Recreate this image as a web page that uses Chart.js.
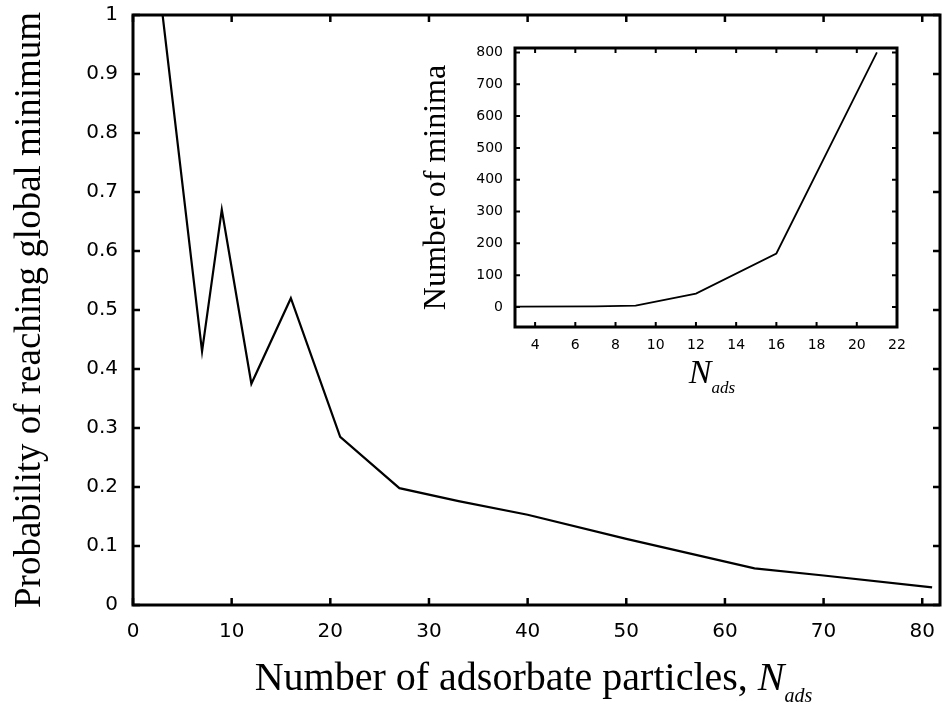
<!DOCTYPE html>
<html>
<head>
<meta charset="utf-8">
<title>Probability of reaching global minimum</title>
<script src="https://cdn.jsdelivr.net/npm/chart.js@4.4.1/dist/chart.umd.min.js"></script>
<style>
  html, body { margin: 0; padding: 0; background: #fff; }
  #wrap { position: relative; width: 944px; height: 710px; }
  #insetBox { position: absolute; left: 405px; top: 40px; width: 500px; height: 360px; }
</style>
</head>
<body>
<div id="wrap">
  <canvas id="mainChart" width="944" height="710"></canvas>
  <div id="insetBox"><canvas id="insetChart" width="500" height="360"></canvas></div>
</div>
<script>
// main curve: probability vs number of adsorbate particles
const particles = [3, 7, 9, 12, 16, 21, 27, 33, 40, 50, 63, 70, 81];
const probability = [1.0, 0.43, 0.67, 0.375, 0.52, 0.285, 0.198, 0.176, 0.153, 0.112, 0.062, 0.05, 0.03];
const mainXTicks = [0, 10, 20, 30, 40, 50, 60, 70, 80];
const mainYTicks = [0, 0.1, 0.2, 0.3, 0.4, 0.5, 0.6, 0.7, 0.8, 0.9, 1];

// inset: number of minima
const insetN = [3, 7, 9, 12, 16, 21];
const minimaCount = [1, 2, 4, 42, 168, 800];
const insetXTicks = [4, 6, 8, 10, 12, 14, 16, 18, 20, 22];
const insetYTicks = [0, 100, 200, 300, 400, 500, 600, 700, 800];

const SERIF = '"Liberation Serif", "Times New Roman", serif';
const SANS = '"DejaVu Sans", sans-serif';

// gnuplot-like frame: box all round, ticks pointing inward on every side
const frame = {
  id: 'frame',
  afterDraw(chart, args, o) {
    const { ctx, chartArea: a, scales: { x, y } } = chart;
    ctx.save();
    ctx.strokeStyle = '#000';
    ctx.lineWidth = o.tickWidth;
    ctx.beginPath();
    x.ticks.forEach(t => {
      const px = x.getPixelForValue(t.value);
      ctx.moveTo(px, a.bottom); ctx.lineTo(px, a.bottom - o.tickLen);
      ctx.moveTo(px, a.top); ctx.lineTo(px, a.top + o.tickLen);
    });
    y.ticks.forEach(t => {
      const py = y.getPixelForValue(t.value);
      ctx.moveTo(a.left, py); ctx.lineTo(a.left + o.tickLen, py);
      ctx.moveTo(a.right, py); ctx.lineTo(a.right - o.tickLen, py);
    });
    ctx.stroke();
    ctx.lineWidth = o.width;
    ctx.strokeRect(a.left, a.top, a.right - a.left, a.bottom - a.top);
    ctx.restore();
  }
};

// x title with italic N and subscript "ads"
const nadsTitle = {
  id: 'nadsTitle',
  afterDraw(chart, args, o) {
    const { ctx, chartArea: a } = chart;
    ctx.save();
    ctx.fillStyle = '#000';
    ctx.textBaseline = 'alphabetic';
    ctx.textAlign = 'left';
    const fPlain = o.size + 'px ' + SERIF;
    const fItal = 'italic ' + o.size + 'px ' + SERIF;
    const fSub = 'italic ' + o.subSize + 'px ' + SERIF;
    ctx.font = fPlain; const w1 = o.prefix ? ctx.measureText(o.prefix).width : 0;
    ctx.font = fItal; const w2 = ctx.measureText('N').width;
    ctx.font = fSub; const w3 = ctx.measureText('ads').width;
    let x = (a.left + a.right) / 2 + o.shift - (w1 + w2 + w3) / 2;
    if (o.prefix) {
      ctx.font = fPlain;
      ctx.fillText(o.prefix, x, o.baseline);
      x += w1;
    }
    ctx.font = fItal;
    ctx.fillText('N', x, o.baseline);
    x += w2;
    ctx.font = fSub;
    ctx.fillText('ads', x, o.baseline + o.subDrop);
    ctx.restore();
  }
};

const fixedTicks = arr => scale => { scale.ticks = arr.map(v => ({ value: v })); };
const plainNum = v => String(+Number(v).toFixed(3));
// keep the plot box where the layout padding puts it
const fixX = h => s => { s.height = h; s.paddingLeft = 0; s.paddingRight = 0; };
const fixY = w => s => { s.width = w; s.paddingTop = 0; s.paddingBottom = 0; };

new Chart(document.getElementById('mainChart'), {
  type: 'line',
  data: {
    datasets: [{
      data: particles.map((n, i) => ({ x: n, y: probability[i] })),
      borderColor: '#000',
      borderWidth: 2.2,
      pointRadius: 0,
      tension: 0,
      fill: false
    }]
  },
  options: {
    responsive: false,
    animation: false,
    layout: { padding: { top: 15, right: 4, left: 0, bottom: 0 } },
    plugins: {
      legend: { display: false },
      tooltip: { enabled: false },
      frame: { width: 3, tickWidth: 2.5, tickLen: 7 },
      nadsTitle: { prefix: 'Number of adsorbate particles, ', size: 40, subSize: 20, baseline: 690, subDrop: 12, shift: -3 }
    },
    scales: {
      x: {
        type: 'linear',
        min: 0,
        max: 81.8,
        afterBuildTicks: fixedTicks(mainXTicks),
        afterFit: fixX(105),
        grid: { display: false, drawTicks: false },
        border: { display: false },
        ticks: { color: '#000', padding: 15, maxRotation: 0, font: { family: SANS, size: 20 }, callback: plainNum }
      },
      y: {
        type: 'linear',
        min: 0,
        max: 1,
        afterBuildTicks: fixedTicks(mainYTicks),
        afterFit: fixY(133),
        grid: { display: false, drawTicks: false },
        border: { display: false },
        ticks: { color: '#000', padding: 15, font: { family: SANS, size: 20 }, callback: plainNum },
        title: {
          display: true,
          text: 'Probability of reaching global minimum',
          color: '#000',
          padding: { top: 8, bottom: 0 },
          font: { family: SERIF, size: 37, lineHeight: 1.2 }
        }
      }
    }
  },
  plugins: [frame, nadsTitle]
});

new Chart(document.getElementById('insetChart'), {
  type: 'line',
  data: {
    datasets: [{
      data: insetN.map((n, i) => ({ x: n, y: minimaCount[i] })),
      borderColor: '#000',
      borderWidth: 1.8,
      pointRadius: 0,
      tension: 0,
      fill: false
    }]
  },
  options: {
    responsive: false,
    animation: false,
    layout: { padding: { top: 8, right: 8, left: 0, bottom: 0 } },
    plugins: {
      legend: { display: false },
      tooltip: { enabled: false },
      frame: { width: 3, tickWidth: 2, tickLen: 5 },
      nadsTitle: { prefix: '', size: 34, subSize: 17, baseline: 343, subDrop: 10, shift: 6 }
    },
    scales: {
      x: {
        type: 'linear',
        min: 3,
        max: 22,
        afterBuildTicks: fixedTicks(insetXTicks),
        afterFit: fixX(73),
        grid: { display: false, drawTicks: false },
        border: { display: false },
        ticks: { color: '#000', padding: 10, maxRotation: 0, font: { family: SANS, size: 14 }, callback: plainNum }
      },
      y: {
        type: 'linear',
        min: -63,
        max: 814,
        afterBuildTicks: fixedTicks(insetYTicks),
        afterFit: fixY(110),
        grid: { display: false, drawTicks: false },
        border: { display: false },
        ticks: { color: '#000', padding: 12, font: { family: SANS, size: 14 }, callback: plainNum },
        title: {
          display: true,
          text: 'Number of minima',
          color: '#000',
          padding: { top: 12, bottom: 0 },
          font: { family: SERIF, size: 32, lineHeight: 1.2 }
        }
      }
    }
  },
  plugins: [frame, nadsTitle]
});
</script>
</body>
</html>
